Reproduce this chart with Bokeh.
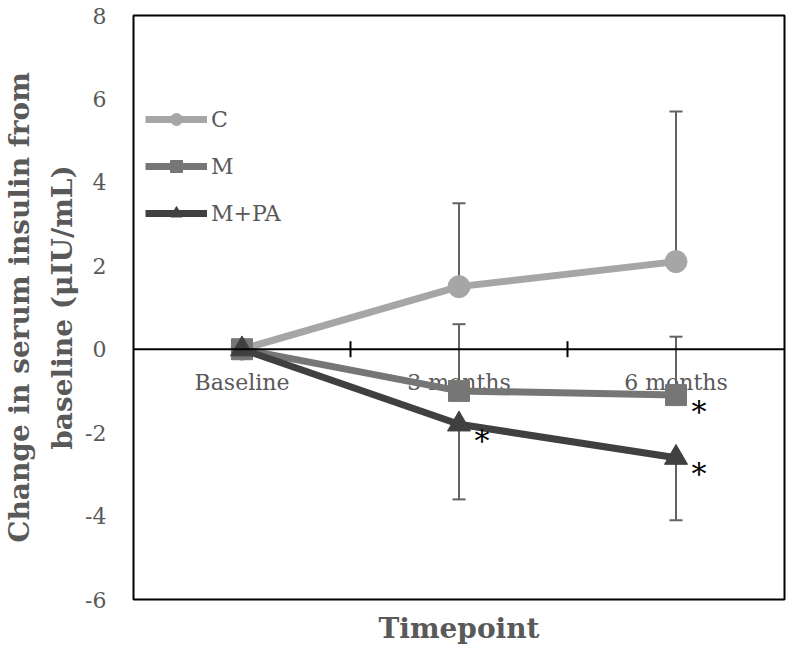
from bokeh.plotting import figure
from bokeh.models import Span, FixedTicker, Range1d, Legend, LegendItem, PrintfTickFormatter
from bokeh.embed import file_html
from bokeh.resources import INLINE
from bokeh.core.properties import value
import math

categories = ["Baseline", "3 months", "6 months"]
c_vals = [0.0, 1.5, 2.1]
c_err_up = [0.0, 2.0, 3.6]
m_vals = [0.0, -1.0, -1.1]
m_err_up = [0.0, 1.6, 1.4]
mpa_vals = [0.0, -1.8, -2.6]
mpa_err_down = [0.0, 1.8, 1.5]
m_sig = [False, False, True]
mpa_sig = [False, True, True]
y_ticks = [-6, -4, -2, 0, 2, 4, 6, 8]

FONT = "DejaVu Serif"
GRAY_TXT = "#595959"
C_COL = "#a6a6a6"
M_COL = "#767676"
MPA_COL = "#404040"
ERR_COL = "#636363"

xs = list(range(len(categories)))

p = figure(width=786, height=648, output_backend="svg", toolbar_location=None,
           x_range=Range1d(-0.5, len(categories) - 0.5), y_range=Range1d(-6, 8),
           min_border_left=60, min_border_right=2, min_border_top=15, min_border_bottom=49)
p.grid.visible = False
p.background_fill_color = "white"
p.border_fill_color = "white"
p.outline_line_color = "black"
p.outline_line_width = 2

# y axis
p.yaxis.ticker = FixedTicker(ticks=y_ticks)
p.yaxis.formatter = PrintfTickFormatter(format="%d")
p.yaxis.axis_line_color = None
p.yaxis.major_tick_line_color = None
p.yaxis.minor_tick_line_color = None
p.yaxis.major_tick_in = 0
p.yaxis.major_tick_out = 0
p.yaxis.major_label_standoff = 27
p.yaxis.major_label_text_font = FONT
p.yaxis.major_label_text_font_size = "22px"
p.yaxis.major_label_text_color = GRAY_TXT
p.yaxis.axis_label = "Change in serum insulin from\nbaseline (\u03bcIU/mL)"
p.yaxis.axis_label_text_font = FONT
p.yaxis.axis_label_text_font_size = "28px"
p.yaxis.axis_label_text_font_style = "bold"
p.yaxis.axis_label_text_color = GRAY_TXT
p.yaxis.axis_label_text_line_height = 1.3
p.yaxis.axis_label_standoff = 3

# x axis (title only)
p.xaxis.ticker = FixedTicker(ticks=[])
p.xaxis.axis_line_color = None
p.xaxis.major_tick_line_color = None
p.xaxis.minor_tick_line_color = None
p.xaxis.axis_label = "Timepoint"
p.xaxis.axis_label_text_font = FONT
p.xaxis.axis_label_text_font_size = "28px"
p.xaxis.axis_label_text_font_style = "bold"
p.xaxis.axis_label_text_color = GRAY_TXT
p.xaxis.axis_label_standoff = 12

# zero line acting as category axis
p.add_layout(Span(location=0, dimension="width", line_color="black", line_width=2))
tick_x = [i + 0.5 for i in xs[:-1]]
p.scatter(x=tick_x, y=[0] * len(tick_x), marker="dash", angle=math.pi / 2, size=16,
          line_color="black", line_width=2)
p.text(x=xs, y=[0] * len(xs), text=categories, text_font=value(FONT), text_font_size="22px",
       text_color=GRAY_TXT, text_align="center", text_baseline="top", y_offset=21)

# error bars
def errbars(x, base, ends):
    p.segment(x0=x, y0=base, x1=x, y1=ends, line_color=ERR_COL, line_width=2)
    p.scatter(x=x, y=ends, marker="dash", size=13, line_color=ERR_COL, line_width=2)

idx = [i for i in xs if i > 0]
errbars([xs[i] for i in idx], [c_vals[i] for i in idx], [c_vals[i] + c_err_up[i] for i in idx])
errbars([xs[i] for i in idx], [m_vals[i] for i in idx], [m_vals[i] + m_err_up[i] for i in idx])
errbars([xs[i] for i in idx], [mpa_vals[i] for i in idx], [mpa_vals[i] - mpa_err_down[i] for i in idx])

# series
lc = p.line(xs, c_vals, line_color=C_COL, line_width=7)
mc = p.scatter(xs, c_vals, marker="circle", size=22, fill_color=C_COL, line_color=C_COL)
lm = p.line(xs, m_vals, line_color=M_COL, line_width=7)
mm = p.scatter(xs, m_vals, marker="square", size=21, fill_color=M_COL, line_color=M_COL)
lp = p.line(xs, mpa_vals, line_color=MPA_COL, line_width=7)
mp = p.scatter(xs, mpa_vals, marker="triangle", size=23, fill_color=MPA_COL, line_color=MPA_COL)

# significance asterisks
sx = [xs[i] for i in xs if m_sig[i]] + [xs[i] for i in xs if mpa_sig[i]]
sy = [m_vals[i] for i in xs if m_sig[i]] + [mpa_vals[i] for i in xs if mpa_sig[i]]
p.text(x=sx, y=sy, text=["*"] * len(sx), text_font=value(FONT), text_font_size="30px",
       text_color="black", text_align="center", text_baseline="middle",
       x_offset=23, y_offset=16)

legend = Legend(items=[LegendItem(label="C", renderers=[lc, mc]),
                       LegendItem(label="M", renderers=[lm, mm]),
                       LegendItem(label="M+PA", renderers=[lp, mp])],
                location=(12, 371), glyph_width=62, glyph_height=30, label_height=30,
                spacing=17, padding=0, margin=0, label_standoff=4,
                label_text_font=FONT, label_text_font_size="22px", label_text_color=GRAY_TXT,
                border_line_color=None, background_fill_alpha=0)
p.add_layout(legend)

open("out.html", "w").write(file_html(p, INLINE))
